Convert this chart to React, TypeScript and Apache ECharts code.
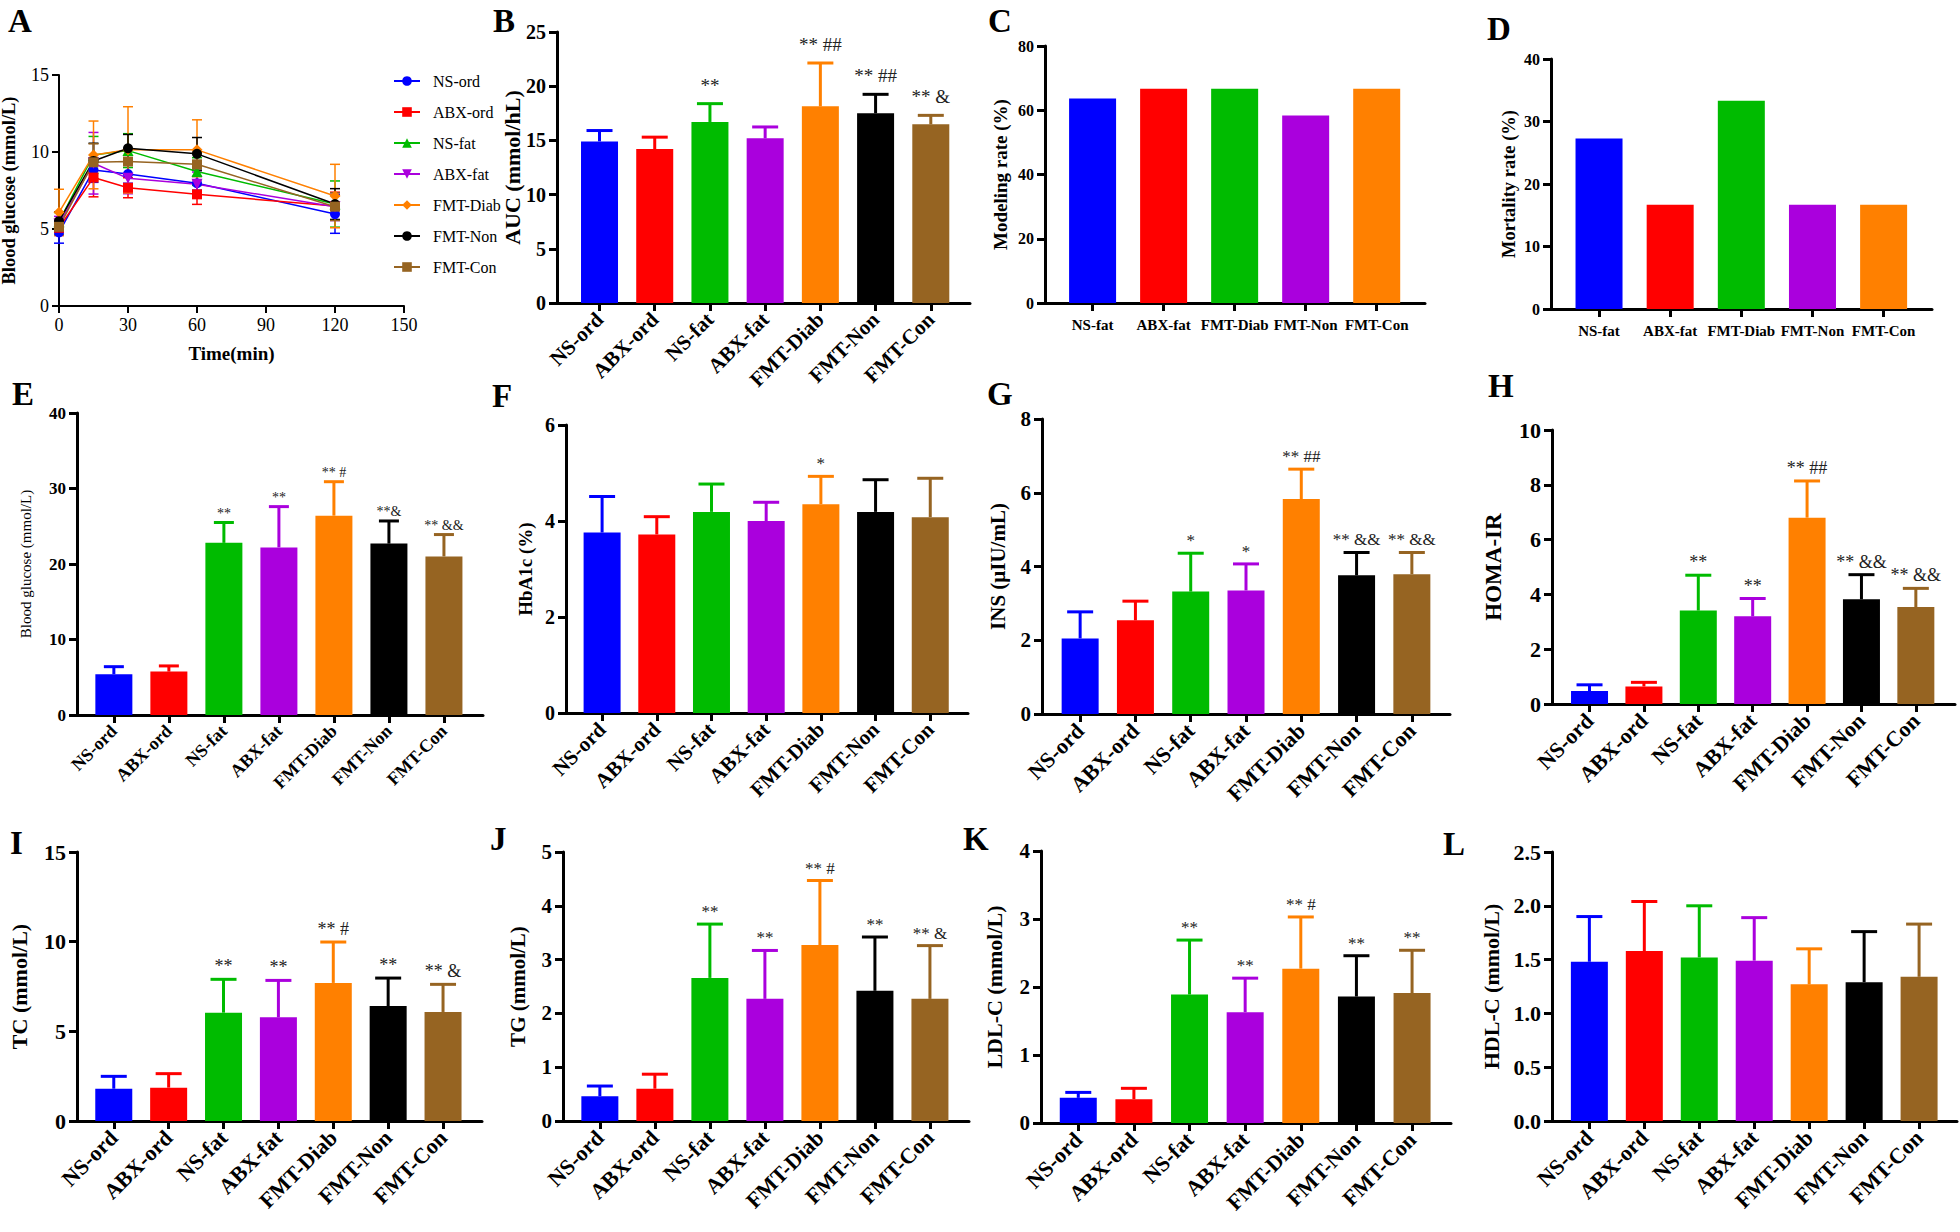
import { useEffect, useRef } from "react";
import * as echarts from "echarts";

const FONT = "'Liberation Serif', 'Times New Roman', serif";

// ---------- categories & colours ----------
const groups7 = ["NS-ord", "ABX-ord", "NS-fat", "ABX-fat", "FMT-Diab", "FMT-Non", "FMT-Con"];
const groups5 = ["NS-fat", "ABX-fat", "FMT-Diab", "FMT-Non", "FMT-Con"];
const colors7 = ["#0000ff", "#ff0000", "#00bb00", "#aa00dd", "#ff8000", "#000000", "#966422"];
const colors5 = ["#0000ff", "#ff0000", "#00bb00", "#aa00dd", "#ff8000"];

// ---------- Panel A: OGTT ----------
const timePoints = [0, 15, 30, 60, 120];
const ogttMean = [
  [4.78, 8.83, 8.57, 7.97, 5.97], // NS-ord
  [5.08, 8.34, 7.68, 7.25, 6.49], // ABX-ord
  [5.47, 9.81, 10.09, 8.73, 6.62], // NS-fat
  [5.32, 9.27, 8.29, 7.9, 6.45], // ABX-fat
  [6.08, 9.81, 10.14, 10.14, 7.14], // FMT-Diab
  [5.51, 9.42, 10.24, 9.88, 6.62], // FMT-Non
  [5.14, 9.33, 9.38, 9.2, 6.45], // FMT-Con
];
const ogttErr = [
  [0.7, 0.8, 0.6, 0.45, 1.25],
  [0.5, 1.25, 0.65, 0.65, 0.9],
  [0.6, 1.2, 1.1, 0.9, 1.5],
  [0.5, 2.0, 1.0, 0.8, 0.9],
  [1.5, 2.2, 2.8, 1.95, 2.06],
  [0.6, 1.15, 0.9, 1.06, 1.0],
  [0.5, 1.2, 0.8, 0.8, 0.9],
];
const ogttSymbols = ["circle", "rect", "triangle", "triangle", "diamond", "circle", "rect"];
const ogttRotate = [0, 0, 0, 180, 0, 0, 0];

// ---------- Panel B: AUC ----------
const aucMean = [14.91, 14.2, 16.7, 15.19, 18.14, 17.5, 16.48];
const aucErr = [1.0, 1.1, 1.69, 1.05, 4.0, 1.75, 0.83];
const aucSig = ["", "", "**", "", "** ##", "** ##", "** &"];

// ---------- Panel C / D ----------
const modelingRate = [63.64, 66.67, 66.67, 58.33, 66.67];
const mortalityRate = [27.27, 16.67, 33.33, 16.67, 16.67];

// ---------- Panel E: fasting blood glucose ----------
const fbgMean = [5.4, 5.75, 22.8, 22.2, 26.4, 22.7, 21.0];
const fbgErr = [1.0, 0.75, 2.7, 5.4, 4.5, 3.0, 2.9];
const fbgSig = ["", "", "**", "**", "** #", "**&", "** &&"];

// ---------- Panel F: HbA1c ----------
const hba1cMean = [3.76, 3.72, 4.19, 4.0, 4.35, 4.19, 4.08];
const hba1cErr = [0.75, 0.37, 0.58, 0.39, 0.58, 0.67, 0.81];
const hba1cSig = ["", "", "", "", "*", "", ""];

// ---------- Panel G: INS ----------
const insMean = [2.05, 2.54, 3.32, 3.35, 5.83, 3.76, 3.79];
const insErr = [0.72, 0.52, 1.04, 0.72, 0.81, 0.62, 0.59];
const insSig = ["", "", "*", "*", "** ##", "** &&", "** &&"];

// ---------- Panel H: HOMA-IR ----------
const homaMean = [0.47, 0.64, 3.41, 3.2, 6.8, 3.82, 3.54];
const homaErr = [0.23, 0.15, 1.29, 0.65, 1.34, 0.9, 0.68];
const homaSig = ["", "", "**", "**", "** ##", "** &&", "** &&"];

// ---------- Panel I: TC ----------
const tcMean = [1.8, 1.86, 6.04, 5.78, 7.7, 6.41, 6.08];
const tcErr = [0.69, 0.78, 1.86, 2.06, 2.28, 1.56, 1.54];
const tcSig = ["", "", "**", "**", "** #", "**", "** &"];

// ---------- Panel J: TG ----------
const tgMean = [0.46, 0.6, 2.66, 2.27, 3.27, 2.42, 2.27];
const tgErr = [0.19, 0.27, 1.0, 0.9, 1.2, 1.0, 0.99];
const tgSig = ["", "", "**", "**", "** #", "**", "** &"];

// ---------- Panel K: LDL-C ----------
const ldlMean = [0.37, 0.35, 1.89, 1.63, 2.27, 1.86, 1.91];
const ldlErr = [0.08, 0.16, 0.8, 0.5, 0.76, 0.6, 0.63];
const ldlSig = ["", "", "**", "**", "** #", "**", "**"];

// ---------- Panel L: HDL-C ----------
const hdlMean = [1.48, 1.58, 1.52, 1.49, 1.27, 1.29, 1.34];
const hdlErr = [0.42, 0.46, 0.48, 0.4, 0.33, 0.47, 0.49];
const hdlSig = ["", "", "", "", "", "", ""];

// ---------- layout / style ----------
type BarPanel = {
  grid: { left: number; top: number; width: number; height: number };
  cats: string[];
  colors: string[];
  mean: number[];
  err?: number[];
  sig?: string[];
  yMax: number;
  yInt: number;
  yName: string;
  nameGap: number;
  tickFont: number;
  titleFont: number;
  titleWeight?: string;
  catFont: number;
  rotate: number;
  barWidth: number;
  xMin: number;
  xMax: number;
  decimals?: number;
  sigFont?: number;
  sigGap?: number;
  capHalf?: number;
};

const barPanels: BarPanel[] = [
  { grid: { left: 557, top: 32, width: 413, height: 271 }, cats: groups7, colors: colors7, mean: aucMean, err: aucErr, sig: aucSig,
    yMax: 25, yInt: 5, yName: "AUC (mmol/hL)", nameGap: 34, tickFont: 20, titleFont: 22, catFont: 21, rotate: 45, barWidth: 37, xMin: -0.77, xMax: 6.71, sigFont: 19, sigGap: 9 },
  { grid: { left: 1045, top: 46, width: 380, height: 257 }, cats: groups5, colors: colors5, mean: modelingRate,
    yMax: 80, yInt: 20, yName: "Modeling rate (%)", nameGap: 35, tickFont: 16, titleFont: 19, catFont: 15, rotate: 0, barWidth: 47, xMin: -0.67, xMax: 4.68 },
  { grid: { left: 1551, top: 59, width: 381, height: 250 }, cats: groups5, colors: colors5, mean: mortalityRate,
    yMax: 40, yInt: 10, yName: "Mortality rate (%)", nameGap: 33, tickFont: 16, titleFont: 18.5, catFont: 15, rotate: 0, barWidth: 47, xMin: -0.675, xMax: 4.68 },
  { grid: { left: 77, top: 413, width: 406, height: 302 }, cats: groups7, colors: colors7, mean: fbgMean, err: fbgErr, sig: fbgSig,
    yMax: 40, yInt: 10, yName: "Blood glucose (mmol/L)", nameGap: 44, tickFont: 17, titleFont: 15, titleWeight: "normal", catFont: 18, rotate: 45, barWidth: 37, xMin: -0.67, xMax: 6.71, sigFont: 14, sigGap: 2, capHalf: 10 },
  { grid: { left: 566, top: 425, width: 402, height: 288 }, cats: groups7, colors: colors7, mean: hba1cMean, err: hba1cErr, sig: hba1cSig,
    yMax: 6, yInt: 2, yName: "HbA1c (%)", nameGap: 31, tickFont: 20, titleFont: 19, catFont: 21, rotate: 45, barWidth: 37, xMin: -0.66, xMax: 6.69, sigFont: 17 },
  { grid: { left: 1042, top: 419, width: 408, height: 295 }, cats: groups7, colors: colors7, mean: insMean, err: insErr, sig: insSig,
    yMax: 8, yInt: 2, yName: "INS (μIU/mL)", nameGap: 34, tickFont: 21, titleFont: 21, catFont: 22, rotate: 45, barWidth: 37, xMin: -0.69, xMax: 6.69, sigFont: 17 },
  { grid: { left: 1552, top: 430, width: 403, height: 274 }, cats: groups7, colors: colors7, mean: homaMean, err: homaErr, sig: homaSig,
    yMax: 10, yInt: 2, yName: "HOMA-IR", nameGap: 47, tickFont: 22, titleFont: 23, catFont: 22, rotate: 45, barWidth: 37, xMin: -0.69, xMax: 6.72, sigFont: 18 },
  { grid: { left: 77, top: 852, width: 405, height: 269 }, cats: groups7, colors: colors7, mean: tcMean, err: tcErr, sig: tcSig,
    yMax: 15, yInt: 5, yName: "TC (mmol/L)", nameGap: 47, tickFont: 22, titleFont: 22, catFont: 22, rotate: 45, barWidth: 37, xMin: -0.67, xMax: 6.71, sigFont: 18 },
  { grid: { left: 563, top: 852, width: 406, height: 269 }, cats: groups7, colors: colors7, mean: tgMean, err: tgErr, sig: tgSig,
    yMax: 5, yInt: 1, yName: "TG (mmol/L)", nameGap: 35, tickFont: 21, titleFont: 21, catFont: 22, rotate: 45, barWidth: 37, xMin: -0.67, xMax: 6.71, sigFont: 17 },
  { grid: { left: 1041, top: 851, width: 410, height: 272 }, cats: groups7, colors: colors7, mean: ldlMean, err: ldlErr, sig: ldlSig,
    yMax: 4, yInt: 1, yName: "LDL-C (mmol/L)", nameGap: 36, tickFont: 21, titleFont: 22, catFont: 22, rotate: 45, barWidth: 37, xMin: -0.67, xMax: 6.7, sigFont: 17 },
  { grid: { left: 1552, top: 852, width: 405, height: 269 }, cats: groups7, colors: colors7, mean: hdlMean, err: hdlErr, sig: hdlSig,
    yMax: 2.5, yInt: 0.5, yName: "HDL-C (mmol/L)", nameGap: 50, tickFont: 22, titleFont: 22, catFont: 22, rotate: 45, barWidth: 37, xMin: -0.68, xMax: 6.69, decimals: 1 },
];

const panelLetters = [
  { t: "A", x: 8, y: 10 }, { t: "B", x: 493, y: 10 }, { t: "C", x: 988, y: 10 }, { t: "D", x: 1487, y: 18 },
  { t: "E", x: 12, y: 383 }, { t: "F", x: 492, y: 385 }, { t: "G", x: 987, y: 383 }, { t: "H", x: 1488, y: 375 },
  { t: "I", x: 10, y: 832 }, { t: "J", x: 490, y: 828 }, { t: "K", x: 963, y: 828 }, { t: "L", x: 1443, y: 833 },
];

function barErrRender(colors: string[], sig: string[], sigFont: number, sigGap: number, capHalf: number) {
  return (params: any, api: any) => {
    const i = api.value(0);
    const v = api.value(1);
    const e = api.value(2);
    const p0 = api.coord([i, v]);
    const p1 = api.coord([i, v + e]);
    const c = colors[params.dataIndex];
    const children: any[] = [
      { type: "line", shape: { x1: p0[0], y1: p0[1], x2: p1[0], y2: p1[1] }, style: { stroke: c, lineWidth: 3 } },
      { type: "line", shape: { x1: p1[0] - capHalf, y1: p1[1], x2: p1[0] + capHalf, y2: p1[1] }, style: { stroke: c, lineWidth: 3 } },
    ];
    const s = sig[params.dataIndex];
    if (s) {
      children.push({
        type: "text",
        x: p1[0],
        y: p1[1] - sigGap,
        style: { text: s, fill: "#222", font: `${sigFont}px ${FONT}`, align: "center", verticalAlign: "bottom" },
      });
    }
    return { type: "group", children };
  };
}

function symErrRender(color: string) {
  return (params: any, api: any) => {
    const x = api.value(0);
    const v = api.value(1);
    const e = api.value(2);
    const pt = api.coord([x, v + e]);
    const pb = api.coord([x, v - e]);
    const st = { stroke: color, lineWidth: 1.5 };
    return {
      type: "group",
      children: [
        { type: "line", shape: { x1: pt[0], y1: pt[1], x2: pb[0], y2: pb[1] }, style: st },
        { type: "line", shape: { x1: pt[0] - 5, y1: pt[1], x2: pt[0] + 5, y2: pt[1] }, style: st },
        { type: "line", shape: { x1: pb[0] - 5, y1: pb[1], x2: pb[0] + 5, y2: pb[1] }, style: st },
      ],
    };
  };
}

function buildOption() {
  const grid: any[] = [];
  const xAxis: any[] = [];
  const yAxis: any[] = [];
  const series: any[] = [];

  // Panel A
  grid.push({ left: 59, top: 75, width: 345, height: 231, outerBoundsMode: "none", containLabel: false });
  xAxis.push({
    type: "value", gridIndex: 0, min: 0, max: 150, interval: 30,
    name: "Time(min)", nameLocation: "middle", nameGap: 38, nameMoveOverlap: false,
    nameTextStyle: { fontFamily: FONT, fontWeight: "bold", fontSize: 19, color: "#000" },
    axisLine: { show: true, onZero: false, lineStyle: { color: "#000", width: 2 } },
    axisTick: { show: true, length: 7, lineStyle: { color: "#000", width: 2 } },
    axisLabel: { fontFamily: FONT, fontSize: 18, color: "#000", margin: 10 },
    splitLine: { show: false },
  });
  yAxis.push({
    type: "value", gridIndex: 0, min: 0, max: 15, interval: 5,
    name: "Blood glucose (mmol/L)", nameLocation: "middle", nameGap: 41, nameRotate: 90, nameMoveOverlap: false,
    nameTextStyle: { fontFamily: FONT, fontWeight: "bold", fontSize: 18.5, color: "#000" },
    axisLine: { show: true, onZero: false, lineStyle: { color: "#000", width: 2 } },
    axisTick: { show: true, length: 7, lineStyle: { color: "#000", width: 2 } },
    axisLabel: { fontFamily: FONT, fontSize: 18, color: "#000", margin: 10 },
    splitLine: { show: false },
  });
  groups7.forEach((g, gi) => {
    series.push({
      type: "custom", xAxisIndex: 0, yAxisIndex: 0, z: 2, silent: true,
      renderItem: symErrRender(colors7[gi]),
      encode: { x: 0, y: 1 },
      data: timePoints.map((t, k) => [t, ogttMean[gi][k], ogttErr[gi][k]]),
    });
  });
  groups7.forEach((g, gi) => {
    series.push({
      type: "line", name: g, xAxisIndex: 0, yAxisIndex: 0, z: 3,
      symbol: ogttSymbols[gi], symbolRotate: ogttRotate[gi],
      symbolSize: ogttSymbols[gi] === "triangle" ? 11 : ogttSymbols[gi] === "diamond" ? 11 : 10,
      color: colors7[gi], itemStyle: { color: colors7[gi] },
      lineStyle: { color: colors7[gi], width: 1.5 },
      data: timePoints.map((t, k) => [t, ogttMean[gi][k]]),
    });
  });

  barPanels.forEach((p, pi) => {
    const idx = pi + 1;
    const ticks = p.cats.map((_, i) => i);
    grid.push({ ...p.grid, outerBoundsMode: "none", containLabel: false });
    xAxis.push({
      type: "value", gridIndex: idx, min: p.xMin, max: p.xMax,
      splitLine: { show: false },
      axisLine: { show: true, onZero: false, lineStyle: { color: "#000", width: 3 } },
      axisTick: { show: true, length: 8, customValues: ticks, lineStyle: { color: "#000", width: 3 } },
      axisLabel: {
        show: true, customValues: ticks,
        formatter: (v: number) => p.cats[Math.round(v)] ?? "",
        rotate: p.rotate, margin: p.rotate ? 13 : 14,
        fontFamily: FONT, fontWeight: "bold", fontSize: p.catFont, color: "#000",
        hideOverlap: false,
      },
    });
    yAxis.push({
      type: "value", gridIndex: idx, min: 0, max: p.yMax, interval: p.yInt,
      name: p.yName, nameLocation: "middle", nameGap: p.nameGap, nameRotate: 90, nameMoveOverlap: false,
      nameTextStyle: { fontFamily: FONT, fontWeight: p.titleWeight ?? "bold", fontSize: p.titleFont, color: "#000" },
      axisLine: { show: true, onZero: false, lineStyle: { color: "#000", width: 3 } },
      axisTick: { show: true, length: 8, lineStyle: { color: "#000", width: 3 } },
      axisLabel: {
        fontFamily: FONT, fontWeight: "bold", fontSize: p.tickFont, color: "#000", margin: 11,
        formatter: (v: number) => (p.decimals ? v.toFixed(p.decimals) : String(v)),
      },
      splitLine: { show: false },
    });
    series.push({
      type: "bar", name: "bars" + idx, xAxisIndex: idx, yAxisIndex: idx, barWidth: p.barWidth, z: 2, silent: true,
      data: p.mean.map((v, i) => ({ value: [i, v], itemStyle: { color: p.colors[i] } })),
    });
    if (p.err) {
      series.push({
        type: "custom", name: "err" + idx, xAxisIndex: idx, yAxisIndex: idx, z: 3, silent: true,
        renderItem: barErrRender(p.colors, p.sig ?? [], p.sigFont ?? 17, p.sigGap ?? 4, p.capHalf ?? 13),
        encode: { x: 0, y: 1 },
        data: p.mean.map((v, i) => [i, v, p.err![i]]),
      });
    }
  });

  const graphic = panelLetters.map((l) => ({
    type: "text", x: l.x, y: l.y - 6, silent: true,
    style: { text: l.t, font: `bold 33px ${FONT}`, fill: "#000", verticalAlign: "top", align: "left" },
  }));

  return {
    animation: false,
    backgroundColor: "#ffffff",
    grid, xAxis, yAxis, series, graphic,
    tooltip: { show: false },
    legend: {
      data: groups7,
      orient: "vertical",
      left: 388, top: 68,
      itemGap: 15, itemWidth: 26, itemHeight: 12,
      selectedMode: false,
      textStyle: { fontFamily: FONT, fontSize: 16, color: "#000", padding: [0, 0, 0, 8] },
    },
  };
}

export default function App() {
  const ref = useRef<HTMLDivElement>(null);
  useEffect(() => {
    if (!ref.current) return;
    const chart = echarts.init(ref.current, null, { renderer: "svg", width: 1960, height: 1232 });
    chart.setOption(buildOption() as any);
    return () => chart.dispose();
  }, []);
  return (
    <div
      ref={ref}
      style={{ position: "absolute", left: 0, top: 0, width: 1960, height: 1232, background: "#fff" }}
    />
  );
}
